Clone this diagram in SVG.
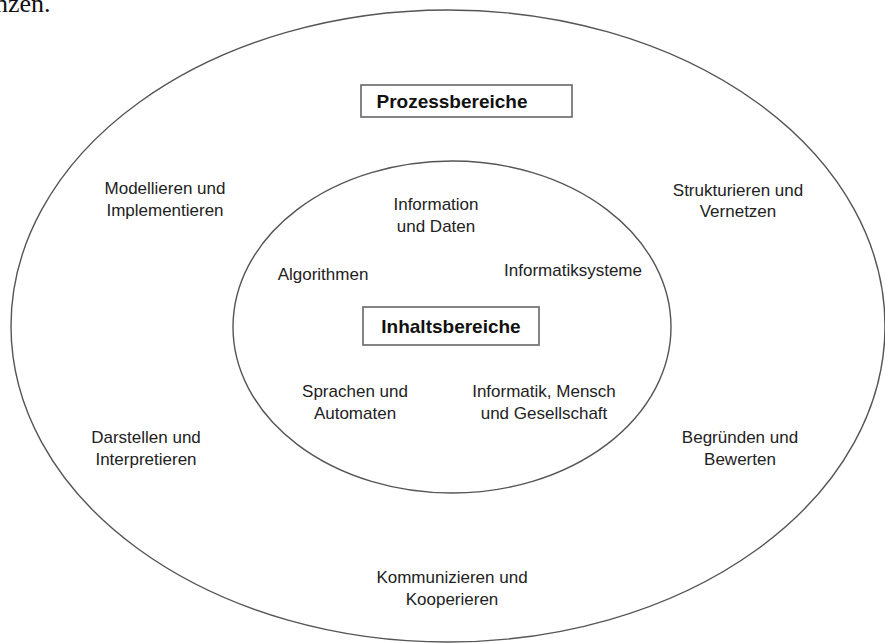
<svg xmlns="http://www.w3.org/2000/svg" width="885" height="643" viewBox="0 0 885 643">
  <style>
    .ring { fill: none; stroke: #555; stroke-width: 1.4; }
    .box { fill: #fff; stroke: #666; stroke-width: 1.6; }
    .lbl { font-family: "Liberation Sans", Arial, sans-serif; font-size: 17px; fill: #222; text-anchor: middle; }
    .head { font-family: "Liberation Sans", Arial, sans-serif; font-size: 19px; font-weight: bold; fill: #111; text-anchor: middle; }
    .frag { font-family: "Liberation Serif", "Times New Roman", serif; font-size: 26px; fill: #111; }
  </style>
  <rect width="885" height="643" fill="#fff"/>

  <!-- trailing text of the preceding paragraph -->
  <text class="frag" x="-5" y="12">nzen.</text>

  <!-- outer ring: process areas -->
  <g id="prozessbereiche">
    <ellipse class="ring" cx="448" cy="326" rx="437" ry="316"/>
    <rect class="box" x="361" y="85" width="211" height="32"/>
    <text class="head" x="452" y="108">Prozessbereiche</text>
  </g>

  <!-- inner ring: content areas -->
  <g id="inhaltsbereiche">
    <ellipse class="ring" cx="452" cy="327" rx="219" ry="166"/>
    <rect class="box" x="363" y="307" width="176" height="38"/>
    <text class="head" x="451" y="333">Inhaltsbereiche</text>
  </g>

  <!-- process areas -->
  <g id="modellieren"><text class="lbl" x="165" y="194">Modellieren und</text><text class="lbl" x="165" y="216">Implementieren</text></g>
  <g id="strukturieren"><text class="lbl" x="738" y="196">Strukturieren und</text><text class="lbl" x="738" y="217">Vernetzen</text></g>
  <g id="darstellen"><text class="lbl" x="146" y="443">Darstellen und</text><text class="lbl" x="146" y="465">Interpretieren</text></g>
  <g id="begruenden"><text class="lbl" x="740" y="443">Begründen und</text><text class="lbl" x="740" y="465">Bewerten</text></g>
  <g id="kommunizieren"><text class="lbl" x="452" y="583">Kommunizieren und</text><text class="lbl" x="452" y="605">Kooperieren</text></g>

  <!-- content areas -->
  <g id="information"><text class="lbl" x="436" y="210">Information</text><text class="lbl" x="436" y="232">und Daten</text></g>
  <g id="algorithmen"><text class="lbl" x="323" y="280">Algorithmen</text></g>
  <g id="informatiksysteme"><text class="lbl" x="573" y="276">Informatiksysteme</text></g>
  <g id="sprachen"><text class="lbl" x="355" y="397">Sprachen und</text><text class="lbl" x="355" y="419">Automaten</text></g>
  <g id="mensch"><text class="lbl" x="544" y="397">Informatik, Mensch</text><text class="lbl" x="544" y="419">und Gesellschaft</text></g>

  <!-- connectors: none drawn -->
  <g id="connectors"/>
</svg>
